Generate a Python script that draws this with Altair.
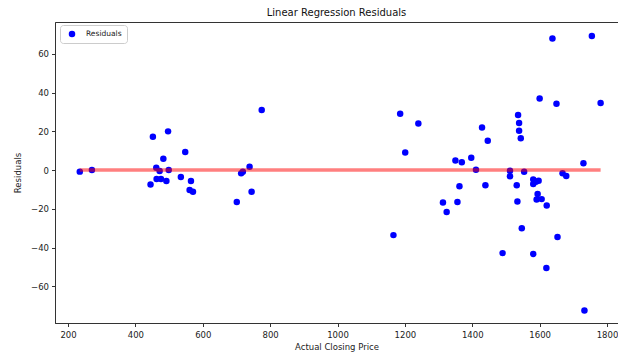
import altair as alt
import pandas as pd

actual = [235, 271, 445, 452, 462, 463, 472, 476, 483, 492, 497, 499, 535, 548,
          561, 565, 571, 701, 714, 719, 739, 745, 775,
          1166, 1186, 1201, 1240, 1313, 1324, 1350, 1356, 1362, 1369, 1397, 1411,
          1429, 1439, 1446, 1490, 1512, 1512, 1532, 1534, 1536, 1539, 1539, 1544,
          1547, 1554, 1581, 1581, 1581, 1589, 1591, 1594, 1597, 1600, 1606, 1620,
          1621, 1638, 1650, 1653, 1668, 1679, 1730, 1733, 1755, 1781]
residuals = [-0.8, 0, -7.4, 17.2, 1.2, -4.6, -0.5, -4.6, 5.8, -5.7, 20, 0, -3.6, 9.3,
             -10.3, -5.7, -11.2, -16.5, -1.7, -0.8, 1.7, -11.2, 31,
             -33.6, 29.1, 9.1, 24.1, -16.7, -21.7, 5, -16.5, -8.4, 4, 6.4, 0.2,
             22, -7.8, 15.2, -42.9, -0.3, -3.2, -7.8, -16.2, 28.4, 24.3, 20.3, 16.5,
             -30.1, -0.9, -4.8, -7.2, -43.3, -6, -15.2, -12.4, -5.5, 37, -15, -50.6,
             -18.3, 68, 34.3, -34.6, -1.6, -3, 3.5, -72.5, 69.3, 34.6]

x_ticks = [200, 400, 600, 800, 1000, 1200, 1400, 1600, 1800]
y_ticks = [-60, -40, -20, 0, 20, 40, 60]

df = pd.DataFrame({"actual": actual, "resid": residuals, "series": "Residuals"})
line_df = pd.DataFrame({"x": [min(actual)], "x2": [max(actual)], "y": [0]})

xs = alt.Scale(domain=[161.4, 1832.6], nice=False, zero=False)
ys = alt.Scale(domain=[-79, 76.5], nice=False, zero=False)

points = alt.Chart(df).mark_circle(size=42, opacity=1).encode(
    x=alt.X("actual:Q", scale=xs, title="Actual Closing Price",
            axis=alt.Axis(values=x_ticks, format="d", labelPadding=4, titlePadding=3)),
    y=alt.Y("resid:Q", scale=ys, title="Residuals",
            axis=alt.Axis(values=y_ticks, format="d", labelPadding=3, titlePadding=8)),
    color=alt.Color("series:N", scale=alt.Scale(domain=["Residuals"], range=["#0000ff"]),
                    legend=alt.Legend(title=None, orient="none", legendX=5, legendY=3,
                                      fillColor="white", strokeColor="#cccccc",
                                      padding=5, cornerRadius=3, symbolSize=42,
                                      symbolType="circle", labelFontSize=7.5,
                                      labelFont="DejaVu Sans", labelColor="#222",
                                      labelOffset=10, symbolOffset=3)),
)

rule = alt.Chart(line_df).mark_rule(color="red", opacity=0.5, strokeWidth=3.5).encode(
    x=alt.X("x:Q", scale=xs),
    x2="x2:Q",
    y=alt.Y("y:Q", scale=ys),
)

chart = alt.layer(points, rule).properties(
    width=563, height=301,
    title=alt.Title("Linear Regression Residuals", fontSize=10, font="DejaVu Sans",
                    fontWeight="normal", color="#111", offset=4),
    autosize=alt.AutoSizeParams(type="none"),
    padding={"left": 47, "top": 14, "right": 0, "bottom": 30},
).configure_axis(
    grid=False, domainColor="#333", tickColor="#333", tickSize=3.5,
    labelFont="DejaVu Sans", titleFont="DejaVu Sans", labelFontSize=8.5,
    titleFontSize=8.5, titleFontWeight="normal", labelColor="#222",
    titleColor="#222",
).configure_view(stroke="#333", strokeWidth=1)

chart.save("out.html", embed_options={"renderer": "svg", "actions": False})
